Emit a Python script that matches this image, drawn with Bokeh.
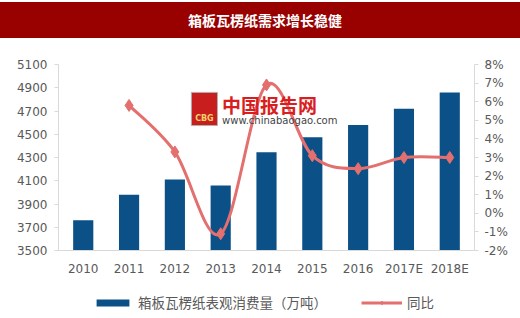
from bokeh.plotting import figure
from bokeh.layouts import column
from bokeh.models import Range1d, LinearAxis, FixedTicker, Legend, LegendItem, Label, Div
from bokeh.embed import file_html
from bokeh.resources import INLINE

title = "箱板瓦楞纸需求增长稳健"
years = ["2010", "2011", "2012", "2013", "2014", "2015", "2016", "2017E", "2018E"]
consumption = [3760, 3980, 4110, 4060, 4345, 4475, 4580, 4720, 4860]
yoy_years = years[1:]
yoy = [5.8, 3.3, -1.1, 6.9, 3.1, 2.4, 3.0, 3.0]
bar_name = "箱板瓦楞纸表观消费量（万吨）"
line_name = "同比"
left_ticks = list(range(3500, 5101, 200))
right_ticks = list(range(-2, 9))

BLUE = "#0B5087"
RED = "#E46F6F"
GRAY = "#595959"
AXIS = "#d9d9d9"
FONT = "DejaVu Sans"
CJK = "Noto Sans CJK SC"
HEAD = "#990000"

W = 520

# header bar
header = Div(text=title, width=W, height=36, margin=(2, 0, 0, 0),
             styles={"background-color": HEAD, "color": "white", "font-weight": "bold",
                     "font-size": "14px", "font-family": CJK, "text-align": "center",
                     "line-height": "36px", "padding-left": "10px", "box-sizing": "border-box"})

# main chart
xi = list(range(len(years)))
p = figure(width=W, height=247, x_range=Range1d(-0.54, 8.54), y_range=Range1d(3500, 5100),
           toolbar_location=None, output_backend="svg",
           min_border_left=58, min_border_right=46, min_border_top=26, min_border_bottom=35,
           outline_line_color=None, background_fill_color="white", border_fill_color="white")
p.xgrid.visible = False
p.ygrid.visible = False
p.extra_y_ranges = {"pct": Range1d(-2, 8)}

bars = p.vbar(x=xi, top=consumption, bottom=3500, width=0.44, fill_color=BLUE, line_color=None)

# smooth line through yoy points (Catmull-Rom style Bezier control points)
lx = [years.index(y) for y in yoy_years]
n = len(lx)
x0, y0, x1, y1, cx0, cy0, cx1, cy1 = [], [], [], [], [], [], [], []
for i in range(n - 1):
    pa = max(i - 1, 0)
    pb = min(i + 2, n - 1)
    x0.append(lx[i]); y0.append(yoy[i])
    x1.append(lx[i + 1]); y1.append(yoy[i + 1])
    cx0.append(lx[i] + (lx[i + 1] - lx[pa]) / 6.0)
    cy0.append(yoy[i] + (yoy[i + 1] - yoy[pa]) / 6.0)
    cx1.append(lx[i + 1] - (lx[pb] - lx[i]) / 6.0)
    cy1.append(yoy[i + 1] - (yoy[pb] - yoy[i]) / 6.0)
curve = p.bezier(x0=x0, y0=y0, x1=x1, y1=y1, cx0=cx0, cy0=cy0, cx1=cx1, cy1=cy1,
                 line_color=RED, line_width=3, y_range_name="pct")
dots = p.scatter(x=lx, y=yoy, marker="diamond", size=12, fill_color=RED, line_color=RED,
                 y_range_name="pct")

# axes
for ax in (p.xaxis[0], p.yaxis[0]):
    ax.axis_line_color = AXIS
    ax.major_tick_line_color = AXIS
    ax.minor_tick_line_color = None
    ax.major_label_text_color = GRAY
    ax.major_label_text_font = FONT
    ax.major_label_text_font_size = "12px"
p.xaxis.ticker = FixedTicker(ticks=xi)
p.xaxis.major_label_overrides = {i: y for i, y in zip(xi, years)}
p.xaxis.major_tick_line_color = None
p.xaxis.major_label_standoff = 5
p.yaxis.ticker = FixedTicker(ticks=left_ticks)
p.yaxis.major_tick_out = 4
p.yaxis.major_tick_in = 0
p.yaxis.major_label_standoff = 7

rax = LinearAxis(y_range_name="pct", ticker=FixedTicker(ticks=right_ticks),
                 major_label_overrides={t: f"{t}%" for t in right_ticks})
rax.axis_line_color = AXIS
rax.major_tick_line_color = AXIS
rax.minor_tick_line_color = None
rax.major_tick_out = 4
rax.major_tick_in = 0
rax.major_label_standoff = 6
rax.major_label_text_color = GRAY
rax.major_label_text_font = FONT
rax.major_label_text_font_size = "12px"
p.add_layout(rax, "right")

# watermark
p.quad(left=[2.36], right=[2.93], top=[4860], bottom=[4575], fill_color="#C81E1E",
       line_color="#b0b0b0", line_width=1)
p.add_layout(Label(x=2.645, y=4600, text="CBG", text_align="center", text_baseline="bottom",
                   text_color="#F5D36A", text_font=FONT, text_font_size="8px", text_font_style="bold"))
p.add_layout(Label(x=3.03, y=4756, text="中国报告网", text_align="left", text_baseline="middle",
                   text_color="#D81E1E", text_font=CJK, text_font_size="19px", text_font_style="bold"))
p.add_layout(Label(x=3.03, y=4618, text="www.chinabaogao.com", text_align="left",
                   text_baseline="middle", text_color="#444444", text_font=FONT,
                   text_font_size="10px"))

# legend strip (its ranges show none of the data, only the legend)
lf = figure(width=W, height=33, x_range=Range1d(-0.54, 8.54), y_range=Range1d(9000, 9001),
            toolbar_location=None, output_backend="svg", x_axis_type=None, y_axis_type=None,
            min_border=0, min_border_left=58, min_border_right=46,
            outline_line_color=None, background_fill_color="white", border_fill_color="white")
lbar = lf.vbar(x=xi, top=consumption, bottom=consumption, width=0.44, fill_color=BLUE,
               line_color=None)
lline = lf.line(x=lx, y=yoy, line_color=RED, line_width=3)
ldot = lf.scatter(x=lx, y=yoy, marker="diamond", size=8, fill_color=RED, line_color=RED)
legend = Legend(items=[LegendItem(label=bar_name, renderers=[lbar]),
                       LegendItem(label=line_name, renderers=[lline, ldot])],
                orientation="horizontal", location=(34, 6),
                border_line_color=None, background_fill_alpha=0,
                glyph_width=41, glyph_height=9, label_height=9, label_standoff=5,
                spacing=34, padding=0, margin=0,
                label_text_font=CJK, label_text_font_size="13.5px", label_text_color=GRAY)
lf.add_layout(legend)

layout = column(header, p, lf, spacing=0)
open("out.html", "w").write(file_html(layout, INLINE))
